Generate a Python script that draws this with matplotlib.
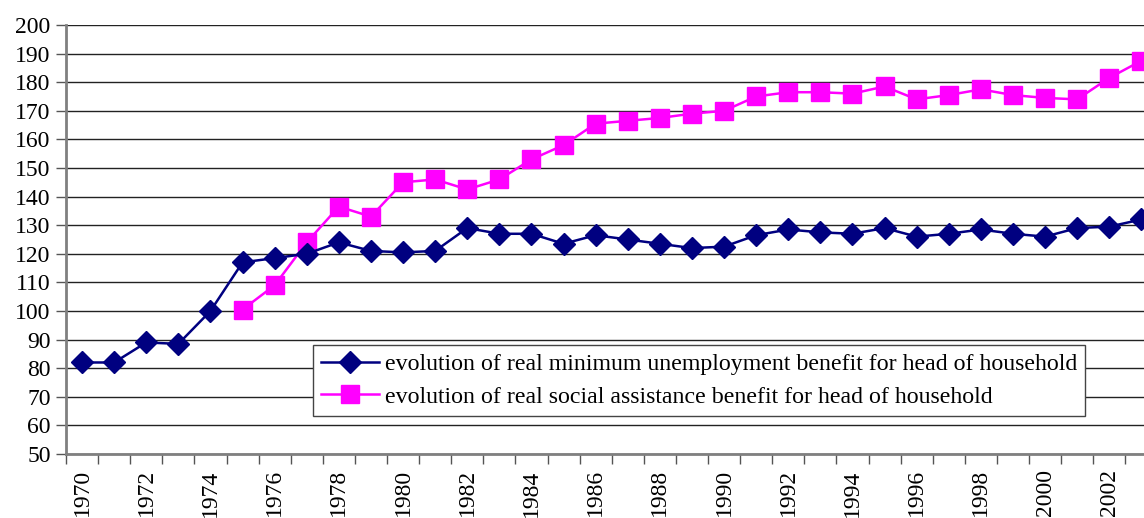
import matplotlib
matplotlib.use('Agg')
import matplotlib.pyplot as plt

plt.rcParams['font.family'] = ['Liberation Serif', 'DejaVu Serif']

years = list(range(1970, 2004))

# real minimum unemployment benefit, index
unemployment = [82, 82, 89, 88.5, 100, 117, 118.5, 120, 124, 121,
                120.5, 121, 129, 127, 127, 123.5, 126.5, 125, 123.5, 122,
                122.5, 126.5, 128.5, 127.5, 127, 129, 126, 127, 128.5, 127,
                126, 129, 129.5, 132]

# real social assistance benefit, starts in 1975
assistance_years = list(range(1975, 2004))
assistance = [100.5, 109, 124, 136.5, 133, 145, 146, 142.5, 146, 153,
              158, 165.5, 166.5, 167.5, 169, 170, 175, 176.5, 176.5, 176,
              178.5, 174, 175.5, 177.5, 175.5, 174.5, 174, 181.5, 187.5]

labels = ['evolution of real minimum unemployment benefit for head of household',
          'evolution of real social assistance benefit for head of household']

W, H = 1144, 518
fig = plt.figure(figsize=(W / 100, H / 100), dpi=100)
left, top, bottom = 66, 25, 454
step = 32.1
right = left + step * len(years)
ax = fig.add_axes([left / W, 1 - bottom / H, (right - left) / W, (bottom - top) / H])

xu = [y - 1970 for y in years]
xa = [y - 1970 for y in assistance_years]

ax.plot(xu, unemployment, color='#000080', lw=1.8, marker='D', ms=11,
        label=labels[0], zorder=4)
ax.plot(xa, assistance, color='#FF00FF', lw=1.8, marker='s', ms=13,
        label=labels[1], zorder=3)

ax.set_xlim(-0.5, len(years) - 0.5)
ax.set_ylim(50, 200)
ax.set_yticks(range(50, 201, 10))
ax.yaxis.grid(True, color='#222222', lw=1)
ax.set_axisbelow(True)

# ticks sit between categories, labels every second year in the middle
ax.set_xticks([i - 0.5 for i in range(len(years) + 1)])
ax.set_xticklabels([])
ax.set_xticks(list(range(0, len(years), 2)), minor=True)
ax.set_xticklabels([str(y) for y in years[::2]], minor=True, rotation=90)
ax.tick_params(axis='x', which='major', length=7, width=1, color='#555555')
ax.tick_params(axis='x', which='minor', length=0, pad=11, labelsize=17)
ax.tick_params(axis='y', length=7, width=1, color='#555555', labelsize=17, pad=4)

for side in ['top', 'right']:
    ax.spines[side].set_visible(False)
for side in ['left', 'bottom']:
    ax.spines[side].set_color('#808080')
    ax.spines[side].set_linewidth(2)

leg = ax.legend(loc='upper left', bbox_to_anchor=(313 / W, 1 - 345 / H),
                bbox_transform=fig.transFigure, fontsize=17.2, fancybox=False,
                framealpha=1, edgecolor='#444444', borderaxespad=0,
                handlelength=2.4, handletextpad=0.25, borderpad=0.35,
                labelspacing=0.45)
leg.get_frame().set_linewidth(1)

fig.savefig('out.png', dpi=100)
